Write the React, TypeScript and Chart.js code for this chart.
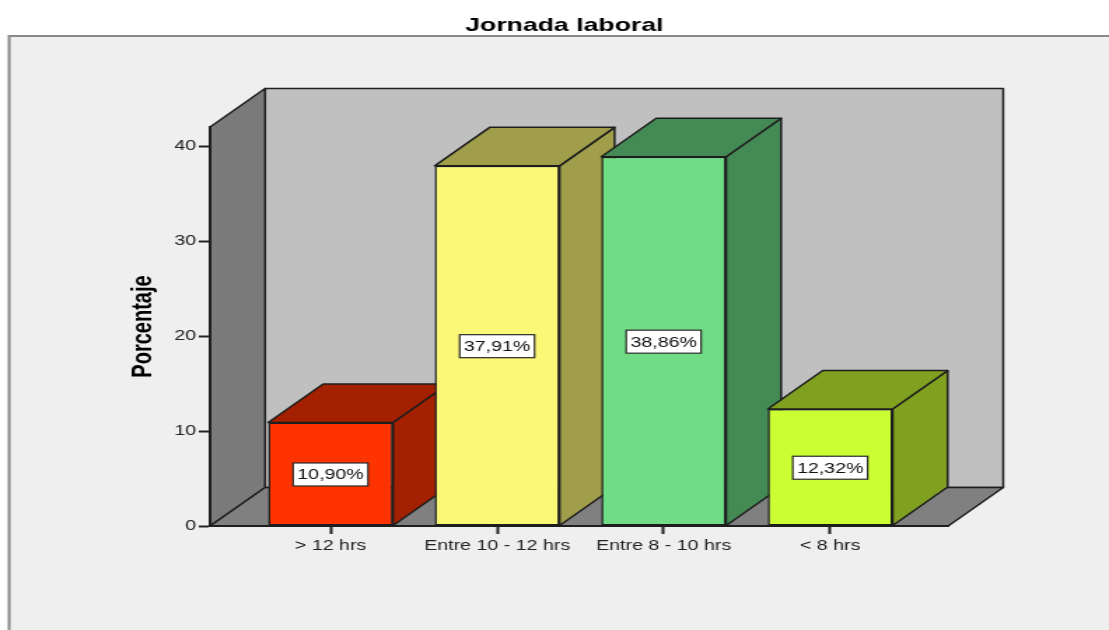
import React, { useEffect, useRef } from 'react';
import { Chart, registerables } from 'chart.js';

Chart.register(...registerables);

// ---- data ----
const chartTitle = 'Jornada laboral';
const yAxisTitle = 'Porcentaje';
const categories = ['> 12 hrs', 'Entre 10 - 12 hrs', 'Entre 8 - 10 hrs', '< 8 hrs'];
const percentages = [10.9, 37.91, 38.86, 12.32];
const yTicks = [0, 10, 20, 30, 40];

// ---- styles ----
const frontColors = ['#ff3300', '#fbf777', '#70dc85', '#ccff33'];
const sideColors = ['#a32000', '#a09e4a', '#448a55', '#80a020'];

const CANVAS_W = 792; // drawn narrow, then stretched horizontally to 1109 by CSS
const CANVAS_H = 630;
const PAGE_W = 1109;
const DEPTH_X = 39.3;
const DEPTH_Y = -38.5;
const EDGE = '#1e1e1e';
const FONT = '"Liberation Sans", Arial, Helvetica, sans-serif';

const formatPct = (v: number) => v.toFixed(2).replace('.', ',') + '%';

function poly(ctx: CanvasRenderingContext2D, pts: number[][], fill: string) {
  ctx.beginPath();
  ctx.moveTo(pts[0][0], pts[0][1]);
  for (let i = 1; i < pts.length; i++) ctx.lineTo(pts[i][0], pts[i][1]);
  ctx.closePath();
  ctx.fillStyle = fill;
  ctx.fill();
  ctx.stroke();
}

const scenePlugin = {
  id: 'scene3d',
  beforeDraw(chart: any) {
    const { ctx, chartArea: a } = chart;
    const W = chart.width;
    const H = chart.height;
    ctx.save();
    ctx.fillStyle = '#ffffff';
    ctx.fillRect(0, 0, W, H);
    // panel
    ctx.fillStyle = '#efefef';
    ctx.fillRect(6.5, 36, W, H);
    ctx.strokeStyle = '#8a8a8a';
    ctx.lineWidth = 2;
    ctx.beginPath();
    ctx.moveTo(6.5, H);
    ctx.lineTo(6.5, 36);
    ctx.lineTo(W, 36);
    ctx.stroke();

    ctx.strokeStyle = EDGE;
    ctx.lineWidth = 1.5;
    ctx.lineJoin = 'round';
    // back wall
    poly(ctx, [
      [a.left + DEPTH_X, a.top + DEPTH_Y],
      [a.right + DEPTH_X, a.top + DEPTH_Y],
      [a.right + DEPTH_X, a.bottom + DEPTH_Y],
      [a.left + DEPTH_X, a.bottom + DEPTH_Y],
    ], '#c0c0c0');
    // side wall
    poly(ctx, [
      [a.left, a.top],
      [a.left + DEPTH_X, a.top + DEPTH_Y],
      [a.left + DEPTH_X, a.bottom + DEPTH_Y],
      [a.left, a.bottom],
    ], '#7a7a7a');
    // floor
    poly(ctx, [
      [a.left, a.bottom],
      [a.left + DEPTH_X, a.bottom + DEPTH_Y],
      [a.right + DEPTH_X, a.bottom + DEPTH_Y],
      [a.right, a.bottom],
    ], '#808080');
    ctx.restore();
  },
  beforeDatasetsDraw(chart: any) {
    const ctx = chart.ctx;
    const meta = chart.getDatasetMeta(0);
    ctx.save();
    ctx.strokeStyle = EDGE;
    ctx.lineWidth = 1.5;
    ctx.lineJoin = 'round';
    meta.data.forEach((bar: any, i: number) => {
      const { x, y, base, width } = bar.getProps(['x', 'y', 'base', 'width'], true);
      const xl = x - width / 2;
      const xr = x + width / 2;
      // right side face
      poly(ctx, [
        [xr, y],
        [xr + DEPTH_X, y + DEPTH_Y],
        [xr + DEPTH_X, base + DEPTH_Y],
        [xr, base],
      ], sideColors[i]);
      // top face
      poly(ctx, [
        [xl, y],
        [xl + DEPTH_X, y + DEPTH_Y],
        [xr + DEPTH_X, y + DEPTH_Y],
        [xr, y],
      ], sideColors[i]);
    });
    ctx.restore();
  },
  afterDatasetsDraw(chart: any) {
    const ctx = chart.ctx;
    const meta = chart.getDatasetMeta(0);
    ctx.save();
    ctx.font = `14px ${FONT}`;
    ctx.textAlign = 'center';
    ctx.textBaseline = 'middle';
    meta.data.forEach((bar: any, i: number) => {
      const { x, y, base } = bar.getProps(['x', 'y', 'base'], true);
      const text = formatPct(percentages[i]);
      const cy = (y + base) / 2 + 0.5;
      const w = ctx.measureText(text).width + 6;
      const h = 23;
      ctx.fillStyle = '#ffffff';
      ctx.fillRect(x - w / 2, cy - h / 2, w, h);
      ctx.strokeStyle = '#2a2a2a';
      ctx.lineWidth = 1.2;
      ctx.strokeRect(x - w / 2, cy - h / 2, w, h);
      ctx.fillStyle = '#111111';
      ctx.fillText(text, x, cy + 1);
    });
    ctx.restore();
  },
  afterDraw(chart: any) {
    const ctx = chart.ctx;
    ctx.save();
    ctx.font = `bold 19px ${FONT}`;
    ctx.fillStyle = '#000000';
    ctx.textAlign = 'center';
    ctx.textBaseline = 'alphabetic';
    ctx.fillText(chartTitle, 403, 31);
    ctx.restore();
  },
};

export default function App() {
  const canvasRef = useRef<HTMLCanvasElement | null>(null);

  useEffect(() => {
    const canvas = canvasRef.current;
    if (!canvas) return;
    const chart = new Chart(canvas, {
      type: 'bar',
      data: {
        datasets: [
          {
            data: percentages.map((v, i) => ({ x: i, y: v })),
            backgroundColor: frontColors,
            borderColor: EDGE,
            borderWidth: 1.5,
            borderSkipped: false,
            barPercentage: 0.75,
            categoryPercentage: 1,
          },
        ],
      },
      options: {
        responsive: false,
        animation: false,
        devicePixelRatio: 1,
        events: [],
        layout: { padding: { top: 127, left: 86, right: 114.86, bottom: 0 } },
        plugins: {
          legend: { display: false },
          title: { display: false },
          tooltip: { enabled: false },
        },
        scales: {
          x: {
            type: 'linear',
            min: -0.7237,
            max: 3.7083,
            offset: false,
            afterFit: (scale: any) => {
              scale.height = 104;
            },
            afterBuildTicks: (scale: any) => {
              scale.ticks = categories.map((_, i) => ({ value: i }));
            },
            grid: {
              offset: false,
              drawOnChartArea: false,
              drawTicks: true,
              tickLength: 8,
              tickWidth: 2,
              tickColor: '#222222',
            },
            border: { display: true, color: '#1e1e1e', width: 2 },
            ticks: {
              autoSkip: false,
              maxRotation: 0,
              padding: 4,
              color: '#222222',
              font: { family: FONT, size: 14 },
              callback: (v: any) => categories[v as number] ?? '',
            },
          },
          y: {
            type: 'linear',
            min: 0,
            max: 42,
            afterFit: (scale: any) => {
              scale.width = 64;
            },
            afterBuildTicks: (scale: any) => {
              scale.ticks = yTicks.map((v) => ({ value: v }));
            },
            grid: {
              drawOnChartArea: false,
              drawTicks: true,
              tickLength: 8,
              tickWidth: 2,
              tickColor: '#222222',
            },
            border: { display: true, color: '#1e1e1e', width: 2 },
            ticks: {
              padding: 2,
              color: '#222222',
              font: { family: FONT, size: 14 },
            },
            title: {
              display: true,
              text: yAxisTitle,
              color: '#000000',
              font: { family: FONT, size: 20, weight: 'bold' },
              padding: { top: 4, bottom: 4 },
            },
          },
        },
      },
      plugins: [scenePlugin],
    });
    return () => chart.destroy();
  }, []);

  return (
    <div
      style={{
        position: 'absolute',
        left: 0,
        top: 0,
        width: PAGE_W,
        height: CANVAS_H,
        overflow: 'hidden',
        background: '#ffffff',
      }}
    >
      <canvas
        ref={canvasRef}
        width={CANVAS_W}
        height={CANVAS_H}
        style={{ width: `${PAGE_W}px`, height: `${CANVAS_H}px`, display: 'block' }}
      />
    </div>
  );
}
